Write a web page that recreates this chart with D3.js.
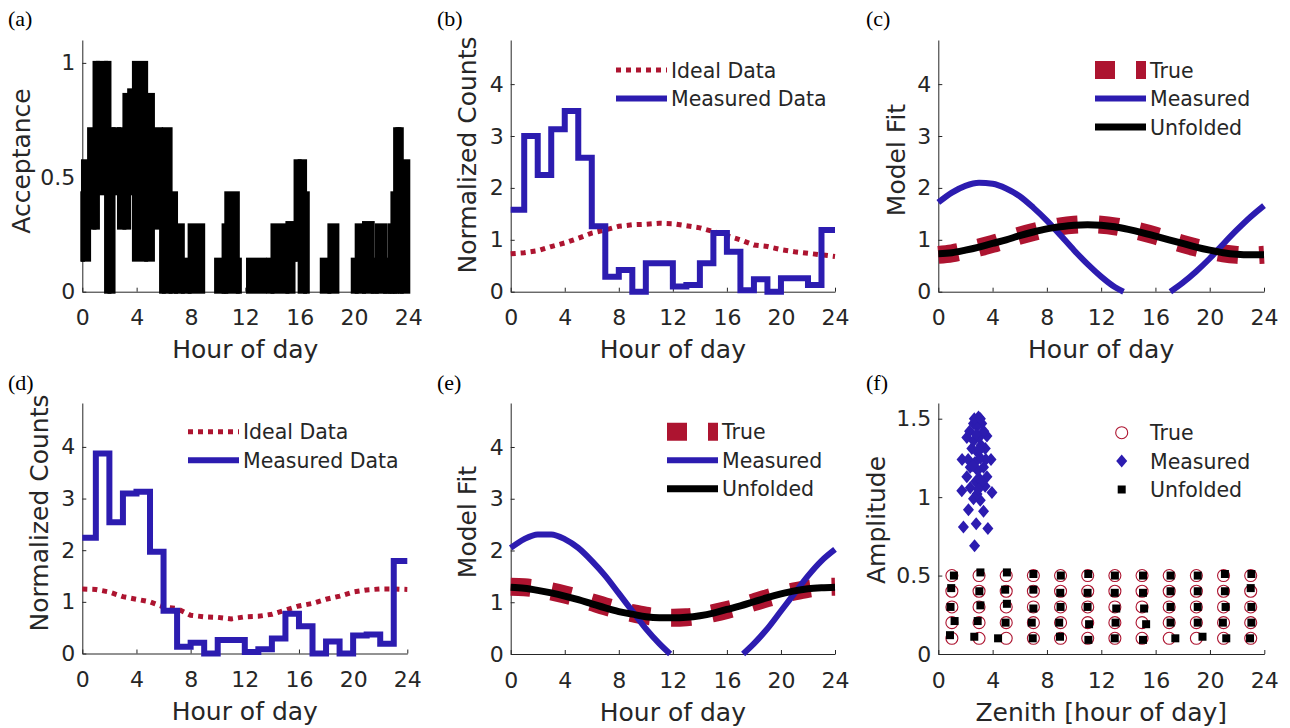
<!DOCTYPE html>
<html>
<head>
<meta charset="utf-8">
<script src="https://cdn.jsdelivr.net/npm/d3@7/dist/d3.min.js"></script>
<style>
  body { margin: 0; background: #fff; }
  text { font-family: "DejaVu Sans", Verdana, sans-serif; fill: #262626; }
</style>
</head>
<body>
<svg width="1290" height="728"></svg>
<script>
// ---- data ----
const xTicks = [0, 4, 8, 12, 16, 20, 24];
const hourGrid = [0,1,2,3,4,5,6,7,8,9,10,11,12,13,14,15,16,17,18,19,20,21,22,23,24];
const binStart = [0,1,2,3,4,5,6,7,8,9,10,11,12,13,14,15,16,17,18,19,20,21,22,23];

// (a) acceptance, drawn as a band [low, high] per segment
const accEdges = [0,0.05,0.5,0.9,1.15,1.75,2.0,2.3,2.7,3.1,3.45,3.8,4.7,5.2,5.8,6.0,6.5,6.9,7.4,7.9,8.9,9.85,10.4,10.6,11.45,11.6,12.2,13.45,13.7,14.0,15.1,15.55,15.7,16.0,16.4,16.6,17.63,18.19,18.78,19.91,20.2,20.74,21.38,21.68,22.29,22.6,22.83,23.03,23.2,23.35,23.52,24];
const accLow  = [.14,.14,.28,.28,.43,0,0,.43,.28,.28,.43,.14,.14,.28,0,0,0,0,0,0,0,0,0,0,0,0,0,0,0,0,0,.14,.14,0,0,0,0,0,0,0,0,0,0,0,0,0,0,0,.14,0,0];
const accHigh = [.43,.57,.71,1,1,1,.71,.71,.71,.86,.88,1,.86,.71,.57,.71,.43,.29,.14,.29,0,.14,.29,.43,.14,0,.14,0,.14,.29,.30,.29,.57,.57,.43,0,.14,.29,0,.14,.29,.30,.14,.29,.14,.29,.43,.71,.71,.71,.57];

// (b)
const idealB = [0.73,0.75,0.79,0.87,0.94,1.03,1.13,1.19,1.26,1.29,1.30,1.32,1.31,1.27,1.23,1.16,1.08,1.0,0.90,0.87,0.81,0.77,0.74,0.71,0.68];
const measB  = [1.58,3.0,2.25,3.13,3.48,2.58,1.26,0.29,0.42,0,0.55,0.55,0.1,0.13,0.55,1.13,0.77,0.03,0.24,0,0.26,0.26,0.13,1.19];

// (c)
const trueC     = [0.71,0.74,0.79,0.85,0.92,1.0,1.08,1.15,1.21,1.26,1.29,1.30,1.29,1.26,1.21,1.15,1.08,1.0,0.92,0.85,0.79,0.74,0.71,0.70,0.71];
const unfoldC   = [0.73,0.75,0.80,0.86,0.93,1.0,1.08,1.15,1.21,1.25,1.28,1.29,1.28,1.25,1.20,1.14,1.07,1.0,0.93,0.86,0.80,0.75,0.72,0.71,0.71];
const measCHour = [0,1,2,3,4,5,6,7,8,9,10,11,12,13,13.65,15,17.1,18,19,20,21,22,23,24];
const measC     = [1.72,1.91,2.04,2.10,2.08,1.99,1.84,1.62,1.37,1.09,0.80,0.53,0.29,0.09,0,null,0,0.17,0.39,0.64,0.92,1.19,1.44,1.66];

// (d)
const idealD = [1.25,1.24,1.19,1.10,1.05,1.0,0.90,0.87,0.74,0.71,0.70,0.67,0.71,0.72,0.76,0.84,0.92,0.97,1.05,1.11,1.19,1.23,1.25,1.25,1.24];
const measD  = [2.24,3.87,2.54,3.10,3.13,1.97,0.83,0.13,0.21,0,0.26,0.26,0.03,0.08,0.29,0.77,0.53,0,0.23,0,0.35,0.37,0.19,1.79];

// (e)
const trueE     = [1.30,1.29,1.26,1.21,1.15,1.08,1.0,0.92,0.85,0.79,0.74,0.71,0.70,0.71,0.74,0.79,0.85,0.92,1.0,1.08,1.15,1.21,1.26,1.29,1.30];
const unfoldE   = [1.29,1.27,1.23,1.18,1.12,1.05,0.97,0.89,0.82,0.77,0.72,0.70,0.70,0.71,0.74,0.79,0.86,0.93,1.01,1.09,1.16,1.22,1.26,1.28,1.29];
const measEHour = [0,1,2,3,4,5,6,7,8,9,10,11,11.8,14,17.2,18,19,20,21,22,23,24];
const measE     = [2.05,2.22,2.31,2.31,2.22,2.05,1.80,1.51,1.17,0.83,0.49,0.20,0,null,0,0.20,0.49,0.83,1.17,1.51,1.80,2.02];

// (f)
const trueZenith = [1,3,5,7,9,11,13,15,17,19,21,23];
const trueAmp    = [0.1,0.2,0.3,0.4,0.5];
const measZen = [2.67,1.85,2.79,3.65,2.22,3.33,1.73,3.95,2.59,3.09,2.85,2.35,3.45,2.1,3.58,2.75,3.0,2.35,3.33,2.9,1.75,3.88,2.2,3.5,2.7,3.1,2.47,3.46,2.85,3.15,2.1,3.58,2.6,3.0,2.3,3.35,2.59,3.2,2.85,2.96,2.8,3.05,2.55,3.2,2.95,2.65,3.1];
const measAmp = [0.69,0.81,0.83,0.80,0.92,0.91,1.04,1.03,0.99,0.98,1.02,1.06,1.07,1.13,1.13,1.10,1.12,1.19,1.19,1.17,1.24,1.24,1.24,1.24,1.22,1.25,1.31,1.31,1.29,1.33,1.38,1.39,1.36,1.38,1.42,1.42,1.47,1.47,1.45,1.51,1.40,1.30,1.20,1.10,1.05,1.50,1.50];
const unfZen = [0.86,1.2,0.9,0.95,1.15, 2.65,2.9,3.1,3.02,3.1, 4.4,4.95,5.05,4.92,5.05, 6.95,6.88,7.0,7.0,7.0,
                8.96,8.9,9.0,8.98,9.02, 11.05,11.1,10.99,10.99,11.04, 12.99,13.05,13.1,12.99,13.0, 15.07,15.3,15.15,15.07,15.07,
                17.45,17.1,17.1,17.1,17.1, 19.45,19.1,19.1,19.1,19.1, 21.2,20.95,21.15,21.1,21.1, 22.95,23.05,23.05,23.0,23.05];
const unfAmp = [0.12,0.21,0.30,0.42,0.50, 0.11,0.21,0.31,0.40,0.52, 0.10,0.20,0.32,0.41,0.52, 0.10,0.20,0.29,0.41,0.51,
                0.11,0.20,0.30,0.39,0.50, 0.09,0.19,0.30,0.39,0.51, 0.10,0.20,0.29,0.39,0.50, 0.09,0.19,0.29,0.39,0.50,
                0.10,0.20,0.30,0.40,0.50, 0.11,0.20,0.30,0.40,0.50, 0.10,0.20,0.30,0.40,0.51, 0.10,0.20,0.30,0.42,0.51];

const RED = '#ad1430', BLUE = '#2c1cb0';
const svg = d3.select('svg');

function frame(box, ymax, yt, ylab, lx, ly, xlab) {
  const x = d3.scaleLinear([0, 24], [box.l, box.r]);
  const y = d3.scaleLinear([0, ymax], [box.b, box.t]);
  const g = svg.append('g');
  const ax = g.append('g').attr('transform', `translate(0,${box.b})`)
    .call(d3.axisBottom(x).tickValues(xTicks).tickFormat(d => String(d))
      .tickSizeInner(-4).tickSizeOuter(0).tickPadding(18));
  const ay = g.append('g').attr('transform', `translate(${box.l},0)`)
    .call(d3.axisLeft(y).tickValues(yt).tickFormat(d => String(d))
      .tickSizeInner(-4).tickSizeOuter(0).tickPadding(7));
  [ax, ay].forEach(a => {
    a.attr('color', '#262626').attr('font-size', 22).attr('font-family', '"DejaVu Sans", Verdana, sans-serif');
  });
  g.append('text').attr('x', (box.l + box.r) / 2).attr('y', box.b + 66.5)
    .attr('text-anchor', 'middle').attr('font-size', 25).text(xlab);
  g.append('text').attr('transform', `translate(${lx},${ly}) rotate(-90)`)
    .attr('text-anchor', 'middle').attr('font-size', 25).text(ylab);
  const data = svg.append('g');
  return { x, y, data, g };
}

function panelLabel(t, px, py) {
  svg.append('text').attr('x', px).attr('y', py).attr('font-size', 22)
    .style('font-family', '"Liberation Serif", "Times New Roman", serif').style('fill', '#000').text(t);
}

function legendLine(g, x0, x1, yy, style, label) {
  const l = g.append('line').attr('x1', x0).attr('x2', x1).attr('y1', yy).attr('y2', yy);
  style(l);
  g.append('text').attr('x', x1 + 4).attr('y', yy + 7.5).attr('font-size', 20.5).text(label);
}

const redDot = s => s.attr('fill', 'none').attr('stroke', RED).attr('stroke-width', 5).attr('stroke-dasharray', '5,5');
const blueStep = s => s.attr('fill', 'none').attr('stroke', BLUE).attr('stroke-width', 6).attr('stroke-linejoin', 'miter');
const redDash = s => s.attr('fill', 'none').attr('stroke', RED).attr('stroke-width', 18).attr('stroke-dasharray', '20,21');
const blueFit = s => s.attr('fill', 'none').attr('stroke', BLUE).attr('stroke-width', 6);
const blackFit = s => s.attr('fill', 'none').attr('stroke', '#000').attr('stroke-width', 7);

function stepPts(vals) {
  const p = binStart.map((h, i) => [h, vals[i]]);
  p.push([24, vals[vals.length - 1]]);
  return p;
}

// ---- (a) ----
{
  const f = frame({ l: 82.3, r: 408.3, t: 40, b: 291.7 }, 1.1, [0, 0.5, 1], 'Acceptance', 30, 161, 'Hour of day');
  f.data.selectAll('rect').data(accLow).join('rect')
    .attr('x', (d, i) => f.x(accEdges[i]))
    .attr('width', (d, i) => f.x(accEdges[i + 1]) - f.x(accEdges[i]))
    .attr('y', (d, i) => f.y(accHigh[i]))
    .attr('height', (d, i) => f.y(d) - f.y(accHigh[i]))
    .attr('fill', '#000').attr('stroke', '#000').attr('stroke-width', 4);
  panelLabel('(a)', 8, 26);
}

// ---- (b) and (d) ----
function histPanel(box, ideal, meas, lx, ly, legX, legY) {
  const f = frame(box, 4.85, [0, 1, 2, 3, 4], 'Normalized Counts', lx, ly, 'Hour of day');
  const lineI = d3.line().x((d, i) => f.x(hourGrid[i])).y(d => f.y(d));
  f.data.append('path').attr('d', lineI(ideal)).call(redDot);
  const lineM = d3.line().x(d => f.x(d[0])).y(d => f.y(d[1])).curve(d3.curveStepAfter);
  f.data.append('path').attr('d', lineM(stepPts(meas))).call(blueStep);
  legendLine(f.data, legX, legX + 51, legY, redDot, 'Ideal Data');
  legendLine(f.data, legX, legX + 51, legY + 28.5, blueStep, 'Measured Data');
}
histPanel({ l: 510.7, r: 835, t: 40, b: 291.7 }, idealB, measB, 476, 155, 616, 70);
panelLabel('(b)', 437, 26);
histPanel({ l: 82.3, r: 407.3, t: 403, b: 653.5 }, idealD, measD, 48, 513, 188, 431.7);
panelLabel('(d)', 8, 390);

// ---- (c) and (e) ----
function fitPanel(box, tru, unf, mh, mv, lx, ly, legX, legY) {
  const f = frame(box, 4.85, [0, 1, 2, 3, 4], 'Model Fit', lx, ly, 'Hour of day');
  const lg = d3.line().x((d, i) => f.x(hourGrid[i])).y(d => f.y(d)).curve(d3.curveMonotoneX);
  f.data.append('path').attr('d', lg(tru)).call(redDash);
  const lm = d3.line().defined(d => d != null).x((d, i) => f.x(mh[i])).y(d => f.y(d)).curve(d3.curveMonotoneX);
  f.data.append('path').attr('d', lm(mv)).call(blueFit);
  f.data.append('path').attr('d', lg(unf)).call(blackFit);
  legendLine(f.data, legX, legX + 51, legY, redDash, 'True');
  legendLine(f.data, legX, legX + 51, legY + 28.5, blueFit, 'Measured');
  legendLine(f.data, legX, legX + 51, legY + 57, blackFit, 'Unfolded');
}
fitPanel({ l: 938.3, r: 1264, t: 40, b: 291.7 }, trueC, unfoldC, measCHour, measC, 905, 160, 1095, 70);
panelLabel('(c)', 866, 26);
fitPanel({ l: 510.7, r: 835, t: 403, b: 654 }, trueE, unfoldE, measEHour, measE, 476, 522, 667, 431.7);
panelLabel('(e)', 437, 390);

// ---- (f) ----
{
  const f = frame({ l: 938.3, r: 1264.3, t: 403, b: 654 }, 1.6, [0, 0.5, 1, 1.5], 'Amplitude', 885, 520, 'Zenith [hour of day]');
  const grid = d3.cross(trueZenith, trueAmp);
  f.data.selectAll('circle.t').data(grid).join('circle').attr('class', 't')
    .attr('cx', d => f.x(d[0])).attr('cy', d => f.y(d[1])).attr('r', 6)
    .attr('fill', 'none').attr('stroke', RED).attr('stroke-width', 1.1);
  const dia = 'M0,-6.5L5.5,0L0,6.5L-5.5,0Z';
  f.data.selectAll('path.m').data(measZen).join('path').attr('class', 'm')
    .attr('d', dia).attr('fill', BLUE)
    .attr('transform', (d, i) => `translate(${f.x(d)},${f.y(measAmp[i])})`);
  f.data.selectAll('rect.u').data(unfZen).join('rect').attr('class', 'u')
    .attr('x', d => f.x(d) - 4).attr('y', (d, i) => f.y(unfAmp[i]) - 4)
    .attr('width', 8).attr('height', 8).attr('fill', '#000');
  const lx = 1121.7;
  f.data.append('circle').attr('cx', lx).attr('cy', 432.7).attr('r', 6)
    .attr('fill', 'none').attr('stroke', RED).attr('stroke-width', 1.1);
  f.data.append('path').attr('d', dia).attr('fill', BLUE)
    .attr('transform', `translate(${lx},461)`);
  f.data.append('rect').attr('x', lx - 4).attr('y', 485.5).attr('width', 8).attr('height', 8).attr('fill', '#000');
  [['True', 432.7], ['Measured', 461], ['Unfolded', 489.5]].forEach(([t, yy]) => {
    f.data.append('text').attr('x', 1150).attr('y', yy + 7.5).attr('font-size', 20.5).text(t);
  });
  panelLabel('(f)', 866, 390);
}
</script>
</body>
</html>
